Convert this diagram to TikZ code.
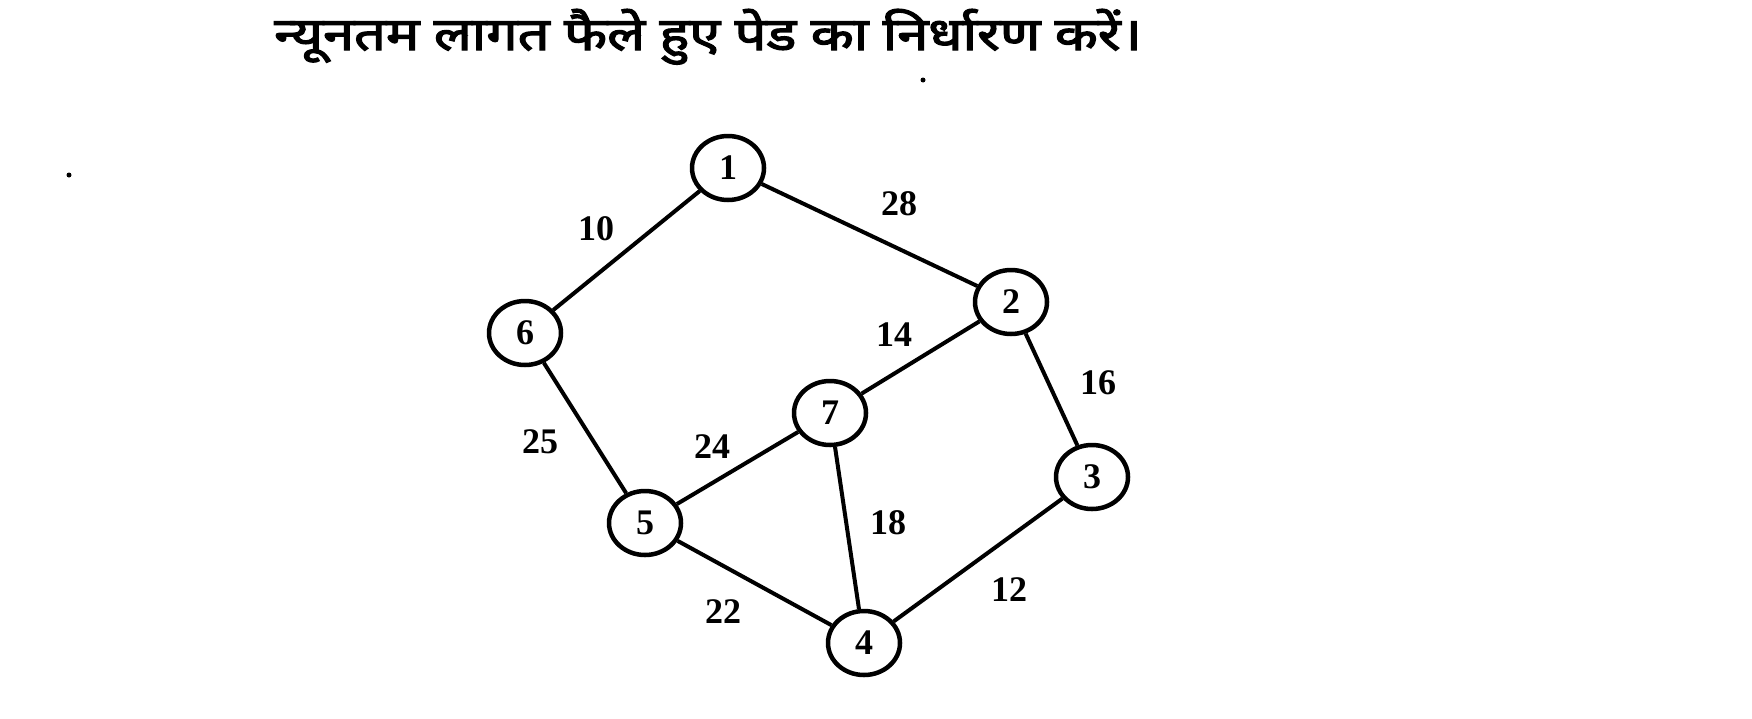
\documentclass[tikz,border=0pt]{standalone}
\usepackage{fontspec}
\setmainfont{Liberation Serif}
\newfontfamily\deva[Script=Devanagari,FakeBold=2.5]{Noto Sans}
\usetikzlibrary{shapes.geometric}
\begin{document}
\begin{tikzpicture}[x=1pt,y=-1pt,
  vtx/.style={ellipse,draw,line width=4.5pt,minimum width=72pt,minimum height=64pt,inner sep=0pt,font=\fontsize{36}{36}\selectfont\bfseries},
  edge/.style={line width=4pt},
  wt/.style={font=\fontsize{36}{36}\selectfont\bfseries,inner sep=0pt},
  speck/.style={circle,fill,inner sep=0pt,minimum size=5pt}]
\useasboundingbox (0,0) rectangle (1752,718);
\node[anchor=base west,inner sep=0pt,font=\deva\fontsize{44}{44}\selectfont] (title) at (274,50) {\scalebox{1.27}[1.04]{न्यूनतम लागत फैले हुए पेड का निर्धारण करें।}};
\node[speck] (d1) at (923,80) {};
\node[speck] (d2) at (69,175) {};
\node[vtx] (n1) at (728,168) {1};
\node[vtx] (n2) at (1011,302) {2};
\node[vtx] (n6) at (525,333) {6};
\node[vtx] (n7) at (830,413) {7};
\node[vtx] (n3) at (1092,477) {3};
\node[vtx] (n5) at (645,523) {5};
\node[vtx] (n4) at (864,643) {4};
\draw[edge] (n1) -- (n6);
\draw[edge] (n1) -- (n2);
\draw[edge] (n2) -- (n7);
\draw[edge] (n2) -- (n3);
\draw[edge] (n6) -- (n5);
\draw[edge] (n7) -- (n5);
\draw[edge] (n7) -- (n4);
\draw[edge] (n5) -- (n4);
\draw[edge] (n3) -- (n4);
\node[wt] (w10) at (596,229) {10};
\node[wt] (w28) at (899,204) {28};
\node[wt] (w14) at (894,335) {14};
\node[wt] (w16) at (1098,383) {16};
\node[wt] (w25) at (540,442) {25};
\node[wt] (w24) at (712,447) {24};
\node[wt] (w18) at (888,523) {18};
\node[wt] (w22) at (723,612) {22};
\node[wt] (w12) at (1009,590) {12};
\end{tikzpicture}
\end{document}
